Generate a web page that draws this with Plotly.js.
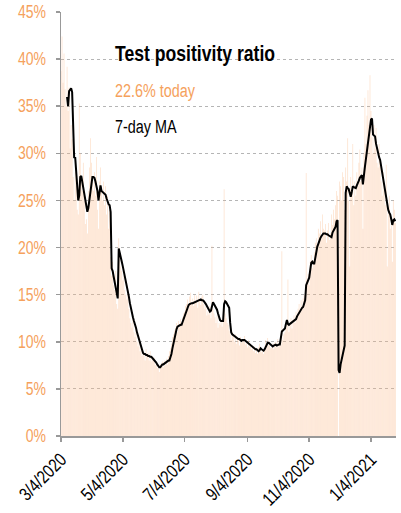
<!DOCTYPE html>
<html>
<head>
<meta charset="utf-8">
<script src="https://cdn.plot.ly/plotly-3.0.1.min.js"></script>
<style>
html,body{margin:0;padding:0;background:#fff;}
#chart{width:401px;height:513px;}
</style>
</head>
<body>
<div id="chart"></div>
<script>
// First day of the series; one value per day after it
const startDate = '2020-03-04';

// Daily test positivity ratio (%)
const dailyRatio = [
  38.7, 42.4, 37.5, 40.6, 36.8, 35.0, 39.2, 34.5, 37.0, 30.5,
  33.0, 31.5, 27.5, 25.0, 28.0, 26.5, 24.0, 23.5, 35.3, 30.0,
  27.0, 26.0, 29.0, 25.0, 22.5, 23.0, 21.5, 26.0, 28.5, 31.6,
  29.0, 27.5, 26.0, 28.0, 25.5, 29.6, 24.0, 22.0, 27.0, 28.5,
  26.5, 25.0, 27.0, 24.5, 26.5, 23.5, 25.5, 22.0, 24.0, 19.0,
  17.0, 18.5, 16.0, 15.5, 17.5, 14.0, 13.5, 21.0, 19.5, 18.0,
  17.5, 16.5, 17.0, 15.5, 15.0, 14.5, 15.5, 13.5, 12.5, 12.0,
  11.5, 12.5, 11.0, 10.5, 11.5, 10.0, 9.5, 10.0, 9.0, 9.5,
  8.5, 9.0, 8.8, 8.0, 9.2, 8.5, 8.8, 8.0, 9.0, 7.9,
  8.5, 8.0, 8.3, 7.5, 7.8, 7.2, 7.5, 6.8, 7.6, 7.4,
  7.9, 7.3, 8.0, 7.5, 8.2, 7.6, 8.5, 9.0, 9.3, 9.8,
  10.5, 10.8, 11.2, 11.5, 12.0, 11.0, 12.2, 11.5, 12.4, 12.0,
  12.6, 13.0, 13.2, 13.8, 14.0, 14.5, 13.5, 14.8, 15.2, 14.0,
  14.6, 13.8, 15.0, 14.2, 14.9, 13.6, 15.3, 14.4, 13.9, 14.8,
  15.0, 14.0, 13.5, 13.8, 12.8, 13.2, 12.9, 13.8, 12.5, 20.2,
  13.5, 13.0, 12.6, 12.0, 12.8, 11.5, 12.0, 11.8, 12.4, 11.6,
  12.2, 26.2, 13.0, 12.5, 12.0, 11.8, 11.2, 10.8, 10.2, 11.0,
  10.5, 10.0, 10.8, 9.8, 10.4, 10.2, 9.6, 10.5, 9.9, 10.3,
  10.0, 10.6, 9.7, 10.1, 9.4, 10.2, 9.5, 9.8, 9.2, 9.6,
  9.0, 9.5, 8.8, 9.3, 8.7, 9.4, 9.8, 9.0, 8.9, 9.2,
  8.7, 9.5, 10.2, 9.8, 10.4, 9.6, 10.0, 9.3, 9.4, 9.8,
  9.2, 9.9, 10.0, 9.4, 10.3, 9.5, 9.8, 9.6, 19.6, 10.2,
  10.8, 11.0, 11.5, 12.2, 16.6, 11.0, 11.8, 12.5, 11.4, 12.3,
  12.8, 12.0, 13.2, 12.6, 13.5, 14.0, 13.2, 14.4, 13.8, 14.6,
  15.0, 14.2, 27.9, 16.5, 17.2, 16.0, 18.5, 19.2, 17.8, 18.6,
  19.5, 20.5, 21.0, 20.2, 22.0, 21.5, 22.8, 21.0, 23.5, 22.0,
  21.8, 22.5, 20.5, 21.8, 22.6, 20.8, 21.5, 23.5, 22.4, 24.0,
  23.0, 24.5, 26.0, 25.5, 0.0, 27.0, 26.5, 25.0, 28.0, 27.5,
  24.0, 28.5, 27.0, 31.6, 25.0, 18.0, 27.5, 26.0, 31.0, 24.5,
  27.0, 25.5, 28.0, 26.5, 29.0, 30.4, 27.0, 28.5, 22.0, 30.0,
  35.9, 31.0, 34.0, 36.7, 33.0, 38.3, 34.5, 31.7, 30.0, 33.0,
  30.5, 32.7, 29.0, 28.5, 31.0, 29.3, 27.0, 25.5, 28.0, 26.0,
  24.5, 28.8, 18.0, 24.0, 25.5, 22.0, 23.3, 18.5, 25.0, 24.0,
  22.6
];

// 7-day moving average (%), same days
const movingAvg = [
  null, null, null, null, null, null, 36.0, 35.0, 36.6, 36.7,
  36.9, 36.5, 33.5, 29.5, 29.6, 28.0, 26.5, 25.0, 25.5, 27.5,
  27.6, 27.0, 26.4, 25.8, 25.3, 24.6, 23.8, 24.2, 25.0, 25.6,
  26.7, 27.5, 27.5, 27.4, 27.0, 26.5, 26.0, 25.0, 26.0, 26.6,
  26.0, 25.9, 25.8, 25.7, 25.6, 25.2, 24.8, 24.6, 24.5, 23.8,
  17.8, 17.5, 16.9, 16.3, 15.7, 15.1, 14.6, 19.9, 19.3, 18.8,
  18.5, 18.0, 17.5, 16.9, 16.3, 15.9, 15.4, 14.8, 14.1, 13.5,
  13.0, 12.6, 12.2, 11.9, 11.5, 11.0, 10.6, 10.1, 9.7, 9.4,
  9.1, 8.8, 8.7, 8.7, 8.6, 8.6, 8.5, 8.5, 8.4, 8.4,
  8.3, 8.2, 8.1, 8.0, 7.8, 7.6, 7.4, 7.3, 7.3, 7.5,
  7.6, 7.6, 7.7, 7.7, 7.8, 7.9, 8.0, 8.0, 8.3, 8.7,
  9.3, 9.9, 10.4, 10.9, 11.3, 11.6, 11.7, 11.7, 11.8, 11.8,
  12.1, 12.4, 12.7, 13.0, 13.4, 13.7, 13.9, 14.0, 14.1, 14.1,
  14.1, 14.15, 14.15, 14.2, 14.3, 14.3, 14.4, 14.4, 14.5, 14.4,
  14.4, 14.3, 14.2, 14.0, 13.8, 13.6, 13.4, 13.2, 13.3, 13.8,
  14.2, 14.0, 13.8, 13.7, 13.4, 13.0, 12.6, 12.3, 12.2, 12.2,
  12.2, 14.0, 14.3, 14.2, 14.0, 13.8, 13.6, 12.0, 11.0, 10.8,
  10.7, 10.6, 10.5, 10.4, 10.4, 10.3, 10.3, 10.2, 10.1, 10.2,
  10.2, 10.2, 10.1, 10.0, 9.9, 9.9, 9.8, 9.7, 9.6, 9.5,
  9.4, 9.3, 9.2, 9.2, 9.1, 9.0, 9.1, 9.3, 9.2, 9.1,
  9.05, 9.2, 9.5, 9.8, 9.9, 9.9, 9.8, 9.6, 9.5, 9.5,
  9.6, 9.7, 9.7, 9.6, 9.7, 9.7, 9.7, 10.4, 11.1, 11.2,
  11.3, 11.4, 11.9, 12.3, 11.9, 11.8, 11.9, 12.0, 12.0, 12.1,
  12.2, 12.3, 12.4, 12.7, 12.9, 13.1, 13.3, 13.5, 13.6, 13.7,
  14.0, 14.4, 16.0, 16.3, 16.6, 16.8, 17.6, 18.4, 18.5, 18.3,
  18.3, 19.0, 19.6, 20.1, 20.4, 20.8, 21.0, 21.2, 21.4, 21.5,
  21.5, 21.5, 21.4, 21.4, 21.3, 21.2, 21.1, 21.1, 21.6, 21.8,
  21.9, 22.2, 22.8, 22.9, 7.0, 6.7, 7.6, 8.2, 8.7, 9.2,
  9.6, 25.8, 26.5, 26.3, 26.2, 25.8, 25.4, 25.9, 26.5, 26.4,
  26.3, 26.3, 26.6, 27.0, 27.1, 27.4, 27.6, 27.7, 26.7, 27.9,
  28.6, 29.4, 30.2, 31.2, 32.3, 33.0, 33.6, 33.7, 32.0, 31.9,
  31.8, 31.0, 30.5, 29.9, 29.6, 29.3, 28.6, 27.9, 27.2, 26.6,
  26.0, 25.4, 24.6, 24.0, 23.7, 23.5, 23.0, 22.4, 22.9, 23.0,
  22.8
];

const tickDates = ['2020-03-04', '2020-05-04', '2020-07-04', '2020-09-04', '2020-11-04', '2021-01-04'];
const tickLabels = ['3/4/2020', '5/4/2020', '7/4/2020', '9/4/2020', '11/4/2020', '1/4/2021'];

const titleText = 'Test positivity ratio';
const todayText = '22.6% today';
const maText = '7-day MA';

// Build the date categories
const t0 = Date.parse(startDate + 'T00:00:00Z');
const dates = dailyRatio.map((_, i) => new Date(t0 + i * 86400000).toISOString().slice(0, 10));

const FONT = '"Liberation Sans", Arial, sans-serif';
const ORANGE = '#f5a15c';
const NARROW = 0.8; // horizontal squeeze to imitate a condensed face

const traces = [
  {
    type: 'bar',
    x: dates,
    y: dailyRatio,
    marker: { color: 'rgba(250,185,135,0.45)', line: { width: 0 } },
    hoverinfo: 'skip'
  },
  {
    type: 'scatter',
    mode: 'lines',
    x: dates,
    y: movingAvg,
    line: { color: '#000000', width: 2 },
    connectgaps: false,
    hoverinfo: 'skip'
  }
];

const layout = {
  width: 401,
  height: 513,
  margin: { l: 61, r: 5, t: 12, b: 77 },
  paper_bgcolor: '#ffffff',
  plot_bgcolor: '#ffffff',
  showlegend: false,
  bargap: 0.3,
  font: { family: FONT, color: '#000' },
  xaxis: {
    type: 'date',
    range: ['2020-03-04', '2021-01-28 16:00'],
    tickmode: 'array',
    tickvals: tickDates,
    ticktext: tickLabels,
    tickangle: -45,
    ticks: 'outside',
    ticklen: 4,
    tickcolor: '#999999',
    tickwidth: 1.5,
    showline: true,
    linecolor: '#999999',
    linewidth: 1.5,
    showgrid: false,
    zeroline: false,
    tickfont: { family: FONT, size: 18.5, color: '#000' }
  },
  yaxis: {
    range: [0, 45],
    tick0: 0,
    dtick: 5,
    ticksuffix: '%',
    ticks: 'outside',
    ticklen: 4,
    tickcolor: '#999999',
    tickwidth: 1.5,
    ticklabelstandoff: 6,
    showline: true,
    linecolor: '#999999',
    linewidth: 1.5,
    showgrid: true,
    gridcolor: '#b5b5b5',
    gridwidth: 1,
    griddash: 'dot',
    zeroline: false,
    tickfont: { family: FONT, size: 17.5, color: ORANGE }
  },
  annotations: [
    {
      xref: 'paper', yref: 'paper', x: 0.155, y: 0.903, xanchor: 'left', yanchor: 'middle', align: 'left',
      text: '<b>' + titleText + '</b>', showarrow: false,
      font: { family: FONT, size: 22, color: '#000' }
    },
    {
      xref: 'paper', yref: 'paper', x: 0.155, y: 0.814, xanchor: 'left', yanchor: 'middle', align: 'left',
      text: todayText, showarrow: false,
      font: { family: FONT, size: 18, color: ORANGE }
    },
    {
      xref: 'paper', yref: 'paper', x: 0.155, y: 0.729, xanchor: 'left', yanchor: 'middle', align: 'left',
      text: maText, showarrow: false,
      font: { family: FONT, size: 18, color: '#000' }
    }
  ]
};

Plotly.newPlot('chart', traces, layout, { staticPlot: true, displayModeBar: false }).then(gd => {
  gd.querySelectorAll('svg text').forEach(t => {
    const L = t.getComputedTextLength();
    if (L > 0) {
      t.setAttribute('textLength', (L * NARROW).toFixed(2));
      t.setAttribute('lengthAdjust', 'spacingAndGlyphs');
    }
  });
});
</script>
</body>
</html>
